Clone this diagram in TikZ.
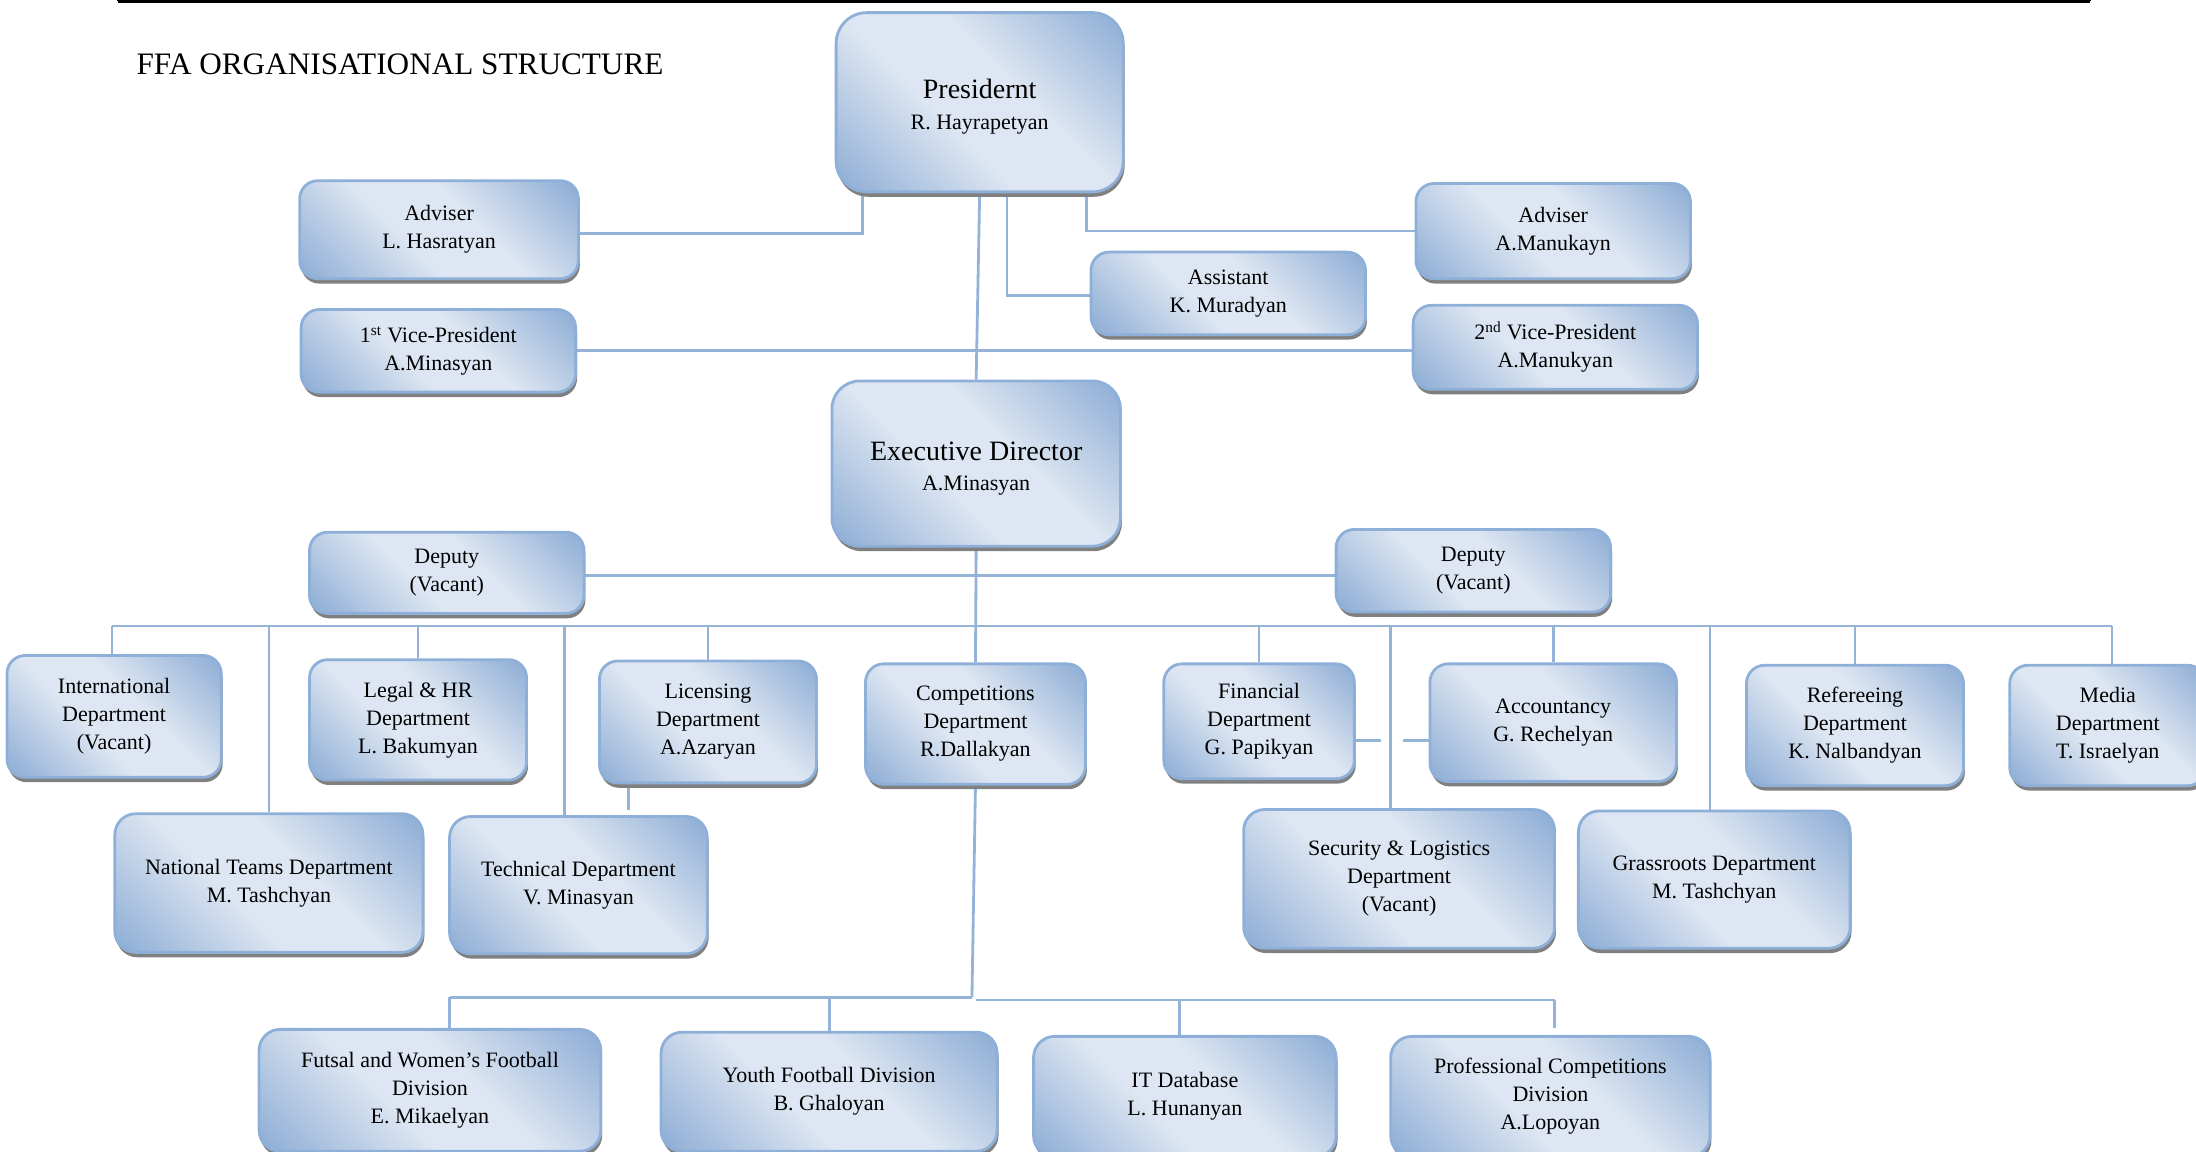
\documentclass[tikz,border=0pt]{standalone}
\usepackage{fontspec}
\setmainfont{Liberation Serif}
\usetikzlibrary{calc,shadows,backgrounds}
\definecolor{ltb}{HTML}{DDE6F2}
\definecolor{dkb}{HTML}{93B1D7}
\definecolor{edgeb}{HTML}{8EB0D8}
\definecolor{wireb}{HTML}{95B3D7}
\pgfdeclarehorizontalshading{refl}{100bp}{color(0bp)=(dkb); color(17bp)=(dkb); color(42bp)=(ltb); color(58bp)=(ltb); color(83bp)=(dkb); color(100bp)=(dkb)}
\tikzset{
  box/.style={draw=edgeb, line width=2pt, shading=refl, shading angle=45,
    rounded corners=13pt, inner sep=0pt, align=center, text=black,
    font=\fontsize{15.7}{20}\selectfont,
    execute at begin node={\rule{0pt}{17pt}},
    drop shadow={shadow xshift=1pt, shadow yshift=-3.5pt, fill=black!50, opacity=1}},
  sz/.style 2 args={minimum width=#1pt, minimum height=#2pt},
  wire/.style={draw=wireb, line width=2pt}
}
\begin{document}
\begin{tikzpicture}[x=1pt,y=-1pt]
\useasboundingbox (0,0) rectangle (1568,822);
\clip (0,0) rectangle (1568,822);

% partial table border at the top
\draw[line width=2pt] (84,1) -- (1492,1);
\foreach \xx in {84,317,729,1236,1492} \draw[line width=1.5pt] (\xx,-4) -- (\xx,1);

\node[anchor=west, font=\fontsize{22.3}{26}\selectfont] (title) at (94,46) {FFA ORGANISATIONAL STRUCTURE};

% top level
\node[box, sz={205}{128}, rounded corners=22pt] (pres) at (699.5,73)
  {{\fontsize{20}{24}\selectfont\rule{0pt}{20.5pt}Presidernt}\\[2pt]R. Hayrapetyan};
\node[box, sz={199}{70}] (advL) at (313.5,164) {Adviser\\L. Hasratyan};
\node[box, sz={196}{68}] (advR) at (1109,165) {Adviser\\A.Manukayn};
\node[box, sz={196}{59}] (asst) at (877,209.5) {Assistant\\K. Muradyan};
\node[box, sz={196}{59}] (vp1) at (313,250.5) {1\textsuperscript{st} Vice-President\\A.Minasyan};
\node[box, sz={203}{60}] (vp2) at (1110.5,248) {2\textsuperscript{nd} Vice-President\\A.Manukyan};
\node[box, sz={206}{118}, rounded corners=20pt] (exec) at (697,331)
  {{\fontsize{20}{24}\selectfont\rule{0pt}{20.5pt}Executive Director}\\[1pt]A.Minasyan};
\node[box, sz={196}{58}] (depL) at (319,409) {Deputy\\(Vacant)};
\node[box, sz={196}{59}] (depR) at (1052,407.5) {Deputy\\(Vacant)};

% departments row 1
\node[box, sz={153}{87}] (intl) at (81.5,511.5) {International\\Department\\(Vacant)};
\node[box, sz={155}{86}] (legal) at (298.5,514) {Legal \& HR\\Department\\L. Bakumyan};
\node[box, sz={155}{87}] (lic) at (505.5,515.5) {Licensing\\Department\\A.Azaryan};
\node[box, sz={157}{86}] (comp) at (696.5,517) {Competitions\\Department\\R.Dallakyan};
\node[box, sz={136}{82}] (fin) at (899,515) {Financial\\Department\\G. Papikyan};
\node[box, sz={176}{84}] (acct) at (1109,516) {Accountancy\\G. Rechelyan};
\node[box, sz={155}{86}] (refr) at (1324.5,518) {Refereeing\\Department\\K. Nalbandyan};
\node[box, sz={140}{86}] (media) at (1505,518) {Media\\Department\\T. Israelyan};

% departments row 2
\node[box, sz={220}{99}, rounded corners=15pt] (natl) at (192,630.5) {National Teams Department\\M. Tashchyan};
\node[box, sz={184}{98}, rounded corners=15pt] (tech) at (413,632) {Technical Department\\V. Minasyan};
\node[box, sz={222}{99}, rounded corners=15pt] (sec) at (999,627.5) {Security \& Logistics\\Department\\(Vacant)};
\node[box, sz={194}{98}, rounded corners=15pt] (grass) at (1224,628) {Grassroots Department\\M. Tashchyan};

% divisions
\node[box, sz={244}{87}, rounded corners=15pt] (futsal) at (307,778.5) {Futsal and Women’s Football\\Division\\E. Mikaelyan};
\node[box, sz={240}{85}, rounded corners=15pt] (youth) at (592,779.5) {Youth Football Division\\B. Ghaloyan};
\node[box, sz={216}{86}, rounded corners=15pt] (itdb) at (846,783) {IT Database\\L. Hunanyan};
\node[box, sz={228}{86}, rounded corners=15pt] (prof) at (1107,783) {Professional Competitions\\Division\\A.Lopoyan};

% connectors
\begin{scope}[on background layer]
\draw[wire] ($(pres.south west)+(20,0)$) |- ($(advL.east)+(0,3)$);
\draw[wire] ($(pres.south east)+(-27,0)$) |- (advR.west);
\draw[wire] ($(pres.south)+(19.5,0)$) |- ($(asst.west)+(0,1.5)$);
\draw[wire] (pres.south) -- (exec.north);
\draw[wire] (vp1.east) -- (vp1.east -| vp2.west);
\draw[wire] ($(depL.east)+(0,2)$) -- ($(depL.east -| depR.west)+(0,2)$);
\draw[wire] (exec.south) -- (comp.north);

\coordinate (busL) at (80,447);
\coordinate (busR) at (1508,447);
\draw[wire] (busL) -- (busR);
\draw[wire] (busL) -- (busL |- intl.north);
\draw[wire] (natl.north |- busL) -- (natl.north);
\draw[wire] (legal.north |- busL) -- (legal.north);
\coordinate (tT) at ($(tech.north)+(-10,0)$);
\draw[wire] (tT |- busL) -- (tT);
\draw[wire] (lic.north |- busL) -- (lic.north);
\draw[wire] (fin.north |- busL) -- (fin.north);
\coordinate (tS) at ($(sec.north)+(-6,0)$);
\draw[wire] (tS |- busL) -- (tS);
\draw[wire] (acct.north |- busL) -- (acct.north);
\coordinate (tG) at ($(grass.north)+(-3,0)$);
\draw[wire] (tG |- busL) -- (tG);
\draw[wire] (refr.north |- busL) -- (refr.north);
\draw[wire] (busR) -- (busR |- media.north);

\draw[wire] ($(lic.south west)+(22,0)$) -- ($(lic.south west)+(22,18)$);
\draw[wire] ($(fin.east)+(0,14)$) -- ++(18,0);
\draw[wire] ($(acct.west)+(0,13)$) -- ++(-18,0);

\coordinate (dM) at (694,712);
\coordinate (dL) at (321,712);
\coordinate (dR) at (1110,714);
\draw[wire] (comp.south) -- (dM);
\draw[wire] (dL) -- (dM);
\draw[wire] ($(dM)+(3,2)$) -- (dR);
\draw[wire] (dL) -- (dL |- futsal.north);
\draw[wire] (youth.north |- dM) -- (youth.north);
\coordinate (tI) at ($(itdb.north)+(-4,0)$);
\draw[wire] (tI |- dR) -- (tI);
\draw[wire] (dR) -- ($(dR |- prof.north)+(0,-5)$);
\end{scope}
\end{tikzpicture}
\end{document}
